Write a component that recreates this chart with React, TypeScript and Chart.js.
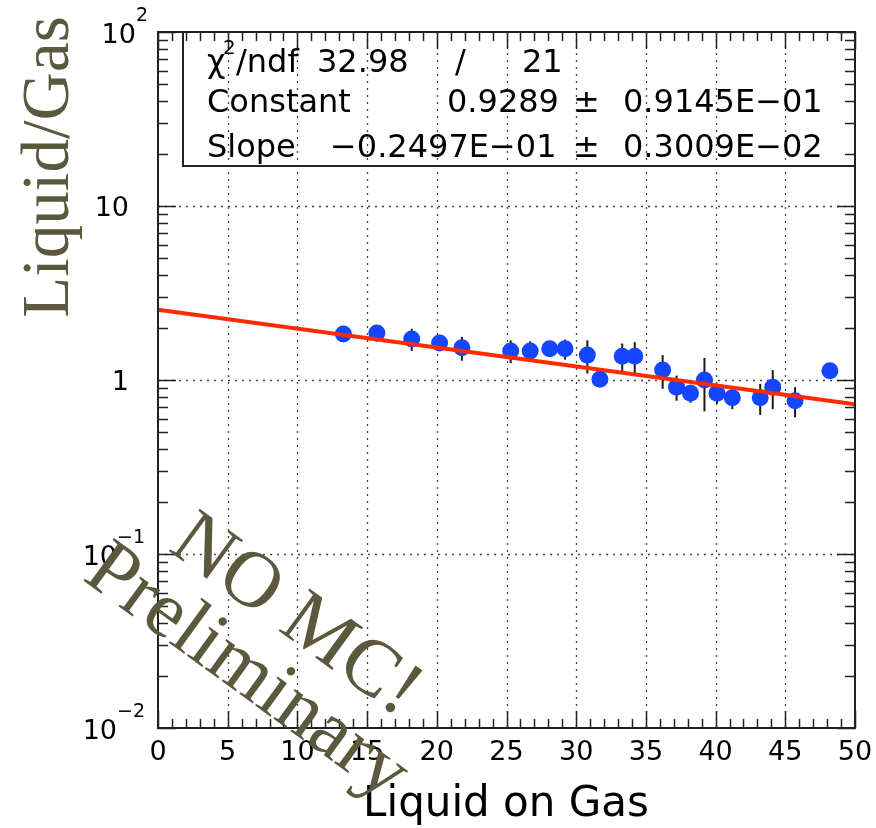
import React, { useEffect, useRef } from "react";
import { Chart, registerables } from "chart.js";

Chart.register(...registerables);

// ---- data ----
const xValues = [13.3, 15.7, 18.2, 20.2, 21.8, 25.3, 26.7, 28.1, 29.2, 30.8, 31.7, 33.3, 34.2, 36.2, 37.2, 38.2, 39.2, 40.1, 41.2, 43.2, 44.1, 45.7, 48.2];
const yValues = [1.84, 1.86, 1.72, 1.63, 1.53, 1.47, 1.47, 1.51, 1.51, 1.39, 1.01, 1.37, 1.37, 1.14, 0.91, 0.84, 1.0, 0.84, 0.79, 0.79, 0.91, 0.76, 1.13];
const yErrors = [0.08, 0.2, 0.25, 0.12, 0.24, 0.22, 0.2, 0.15, 0.2, 0.3, 0.08, 0.25, 0.28, 0.25, 0.15, 0.1, 0.34, 0.11, 0.11, 0.16, 0.23, 0.15, 0.03];

const fitConstant = 0.9289;
const fitSlope = -0.02497;
const fitRange = [0, 50];

const xTickValues = [0, 5, 10, 15, 20, 25, 30, 35, 40, 45, 50];
const yDecades = [-2, -1, 0, 1, 2];

const statsLines = [
  { label: "ndf", value: "32.98", sep: "/", err: "21" },
  { label: "Constant", value: "0.9289", sep: "\u00b1", err: "0.9145E\u221201" },
  { label: "Slope", value: "\u22120.2497E\u221201", sep: "\u00b1", err: "0.3009E\u221202" },
];

const xTitle = "Liquid on Gas";
const yTitle = "Liquid/Gas";
const watermark1 = "NO MC!";
const watermark2 = "Preliminary";

const OLIVE = "#5b583d";
const BLUE = "#1546ff";
const RED = "#ff2a00";
const ROOTFONT = "'DejaVu Sans', sans-serif";
const SERIF = "'Liberation Serif', 'Times New Roman', serif";

const rootPlugin = {
  id: "rootStyle",
  beforeDatasetsDraw(chart: any) {
    const ctx = chart.ctx;
    const xs = chart.scales.x;
    const ys = chart.scales.y;
    const { left, right, top, bottom } = chart.chartArea;
    ctx.save();
    // dotted grid
    ctx.setLineDash([2, 5]);
    ctx.strokeStyle = "#444";
    ctx.lineWidth = 1.3;
    xTickValues.forEach((v) => {
      if (v === 0 || v === 50) return;
      const px = Math.round(xs.getPixelForValue(v)) + 0.5;
      ctx.beginPath();
      ctx.moveTo(px, top);
      ctx.lineTo(px, bottom);
      ctx.stroke();
    });
    yDecades.forEach((d) => {
      if (d === -2 || d === 2) return;
      const py = Math.round(ys.getPixelForValue(Math.pow(10, d))) + 0.5;
      ctx.beginPath();
      ctx.moveTo(left, py);
      ctx.lineTo(right, py);
      ctx.stroke();
    });
    ctx.setLineDash([]);
    // error bars
    ctx.strokeStyle = "#1a1a1a";
    ctx.lineWidth = 2;
    xValues.forEach((x, i) => {
      const px = xs.getPixelForValue(x);
      const y1 = ys.getPixelForValue(yValues[i] + yErrors[i]);
      const y2 = ys.getPixelForValue(Math.max(yValues[i] - yErrors[i], 0.0001));
      ctx.beginPath();
      ctx.moveTo(px, y1);
      ctx.lineTo(px, y2);
      ctx.stroke();
    });
    ctx.restore();
  },
  afterDraw(chart: any) {
    const ctx = chart.ctx;
    const xs = chart.scales.x;
    const ys = chart.scales.y;
    const { left, right, top, bottom } = chart.chartArea;
    ctx.save();

    // frame
    ctx.strokeStyle = "#222";
    ctx.lineWidth = 2;
    ctx.strokeRect(left, top, right - left, bottom - top);

    // x ticks
    ctx.lineWidth = 1.5;
    for (let v = 0; v <= 50; v += 1) {
      const px = Math.round(xs.getPixelForValue(v)) + 0.5;
      const len = v % 5 === 0 ? 17 : 9;
      ctx.beginPath();
      ctx.moveTo(px, bottom);
      ctx.lineTo(px, bottom - len);
      ctx.moveTo(px, top);
      ctx.lineTo(px, top + len);
      ctx.stroke();
    }
    // y ticks
    for (let d = -2; d <= 2; d++) {
      for (let m = 1; m <= 9; m++) {
        if (d === 2 && m > 1) break;
        const py = Math.round(ys.getPixelForValue(m * Math.pow(10, d))) + 0.5;
        const len = m === 1 ? 18 : 10;
        ctx.beginPath();
        ctx.moveTo(left, py);
        ctx.lineTo(left + len, py);
        ctx.moveTo(right, py);
        ctx.lineTo(right - len, py);
        ctx.stroke();
      }
    }

    // x tick labels
    ctx.fillStyle = "#000";
    ctx.font = "27px " + ROOTFONT;
    ctx.textAlign = "center";
    ctx.textBaseline = "alphabetic";
    xTickValues.forEach((v) => {
      ctx.fillText(String(v), xs.getPixelForValue(v), bottom + 32);
    });

    // y tick labels
    yDecades.forEach((d) => {
      const py = ys.getPixelForValue(Math.pow(10, d));
      ctx.textAlign = "right";
      if (d === 0 || d === 1) {
        ctx.font = "27px " + ROOTFONT;
        ctx.fillText(d === 0 ? "1" : "10", left - 29, py + 10);
      } else {
        const exp = d < 0 ? "\u2212" + String(-d) : String(d);
        ctx.font = "19px " + ROOTFONT;
        const we = ctx.measureText(exp).width;
        const rightEdge = d < 0 ? left - 13 : left - 10;
        ctx.textAlign = "left";
        ctx.fillText(exp, rightEdge - we, py - 11);
        ctx.font = "27px " + ROOTFONT;
        ctx.textAlign = "right";
        ctx.fillText("10", rightEdge - we, py + 11);
      }
    });

    // x title
    ctx.font = "42px " + ROOTFONT;
    ctx.textAlign = "center";
    ctx.fillText(xTitle, 506, 816);

    // y title
    ctx.save();
    ctx.translate(68, 167);
    ctx.rotate(-Math.PI / 2);
    ctx.fillStyle = OLIVE;
    ctx.font = "67px " + SERIF;
    ctx.textAlign = "center";
    ctx.fillText(yTitle, 0, 0);
    ctx.restore();

    // stats box
    ctx.strokeStyle = "#222";
    ctx.lineWidth = 2;
    ctx.strokeRect(183, top, right - 183, 166 - top);
    ctx.fillStyle = "#000";
    ctx.textAlign = "left";
    const base = [72, 112, 157];
    ctx.font = "32px " + ROOTFONT;
    ctx.fillText("\u03c7", 207, base[0]);
    ctx.font = "20px " + ROOTFONT;
    ctx.fillText("2", 223, 54);
    ctx.font = "32px " + ROOTFONT;
    ctx.fillText("/" + statsLines[0].label, 236, base[0]);
    ctx.fillText(statsLines[0].value, 317, base[0]);
    ctx.fillText(statsLines[0].sep, 455, base[0]);
    ctx.fillText(statsLines[0].err, 522, base[0]);

    ctx.fillText(statsLines[1].label, 207, base[1]);
    ctx.fillText(statsLines[1].value, 447, base[1]);
    ctx.fillText(statsLines[1].sep, 573, base[1]);
    ctx.fillText(statsLines[1].err, 623, base[1]);

    ctx.fillText(statsLines[2].label, 207, base[2]);
    ctx.fillText(statsLines[2].value, 330, base[2]);
    ctx.fillText(statsLines[2].sep, 573, base[2]);
    ctx.fillText(statsLines[2].err, 623, base[2]);

    // watermark
    const ang = (36 * Math.PI) / 180;
    ctx.fillStyle = OLIVE;
    ctx.font = "80px " + SERIF;
    ctx.textAlign = "center";
    ctx.save();
    ctx.translate(283, 634);
    ctx.rotate(ang);
    ctx.fillText(watermark1, 0, 0);
    ctx.restore();
    ctx.save();
    ctx.translate(234, 690);
    ctx.rotate(ang);
    ctx.fillText(watermark2, 0, 0);
    ctx.restore();

    ctx.restore();
  },
};

export default function App() {
  const canvasRef = useRef<HTMLCanvasElement | null>(null);

  useEffect(() => {
    if (!canvasRef.current) return;
    const points = xValues.map((x, i) => ({ x, y: yValues[i] }));
    const fit = fitRange.map((x) => ({ x, y: Math.exp(fitConstant + fitSlope * x) }));
    const chart = new Chart(canvasRef.current, {
      type: "scatter",
      data: {
        datasets: [
          {
            label: "fit",
            data: fit,
            showLine: true,
            borderColor: RED,
            borderWidth: 4,
            pointRadius: 0,
            order: 0,
          } as any,
          {
            label: "data",
            data: points,
            pointRadius: 8.5,
            pointBackgroundColor: BLUE,
            pointBorderColor: BLUE,
            pointBorderWidth: 0,
            showLine: false,
            order: 1,
          } as any,
        ],
      },
      options: {
        animation: false,
        responsive: false,
        maintainAspectRatio: false,
        layout: { padding: { left: 0, top: 32, right: 21, bottom: 0 } },
        plugins: { legend: { display: false }, tooltip: { enabled: false } },
        scales: {
          x: {
            type: "linear",
            min: 0,
            max: 50,
            ticks: { display: false },
            grid: { display: false },
            border: { display: false },
            afterFit: (s: any) => {
              s.height = 100;
            },
          },
          y: {
            type: "logarithmic",
            min: 0.01,
            max: 100,
            ticks: { display: false },
            grid: { display: false },
            border: { display: false },
            afterFit: (s: any) => {
              s.width = 158;
            },
          },
        },
      },
      plugins: [rootPlugin],
    });
    return () => chart.destroy();
  }, []);

  return (
    <div style={{ position: "absolute", left: 0, top: 0, width: 876, height: 828, background: "#fff" }}>
      <canvas ref={canvasRef} width={876} height={828} />
    </div>
  );
}
